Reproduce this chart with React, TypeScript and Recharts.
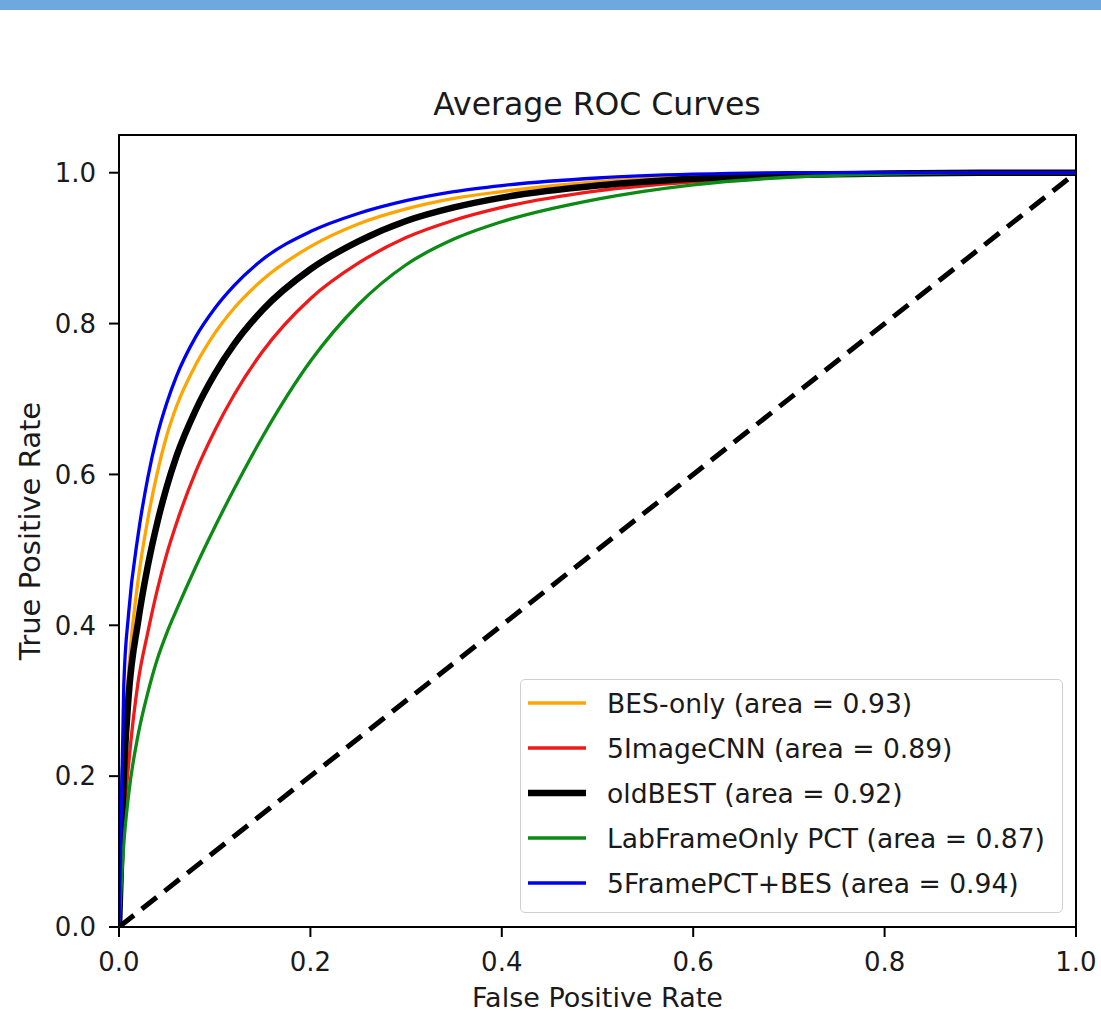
import React from "react";
import { LineChart, Line, XAxis, YAxis, Legend, ReferenceArea, Label } from "recharts";

// false positive rate sample points shared by all curves
const fpr = [0, 0.005, 0.01, 0.02, 0.03, 0.04, 0.05, 0.06, 0.08, 0.1, 0.12, 0.15, 0.2, 0.25, 0.3, 0.35, 0.4, 0.5, 0.6, 0.7, 0.8, 0.9, 1.0];

// true positive rate per model
const besOnly = [0, 0.23, 0.34, 0.46, 0.54, 0.602, 0.652, 0.69, 0.745, 0.787, 0.82, 0.858, 0.902, 0.932, 0.952, 0.966, 0.975, 0.988, 0.995, 0.998, 1.0, 1.0, 1.0];
const imageCnn = [0, 0.14, 0.215, 0.325, 0.39, 0.447, 0.495, 0.535, 0.603, 0.658, 0.705, 0.763, 0.833, 0.88, 0.914, 0.937, 0.954, 0.976, 0.988, 0.995, 0.999, 1.0, 1.0];
const oldBest = [0, 0.2, 0.305, 0.405, 0.478, 0.536, 0.584, 0.624, 0.685, 0.733, 0.772, 0.818, 0.872, 0.909, 0.936, 0.954, 0.967, 0.983, 0.992, 0.997, 0.999, 1.0, 1.0];
const labFrame = [0, 0.11, 0.175, 0.255, 0.31, 0.355, 0.39, 0.42, 0.477, 0.53, 0.58, 0.65, 0.75, 0.825, 0.878, 0.912, 0.935, 0.965, 0.984, 0.994, 0.998, 1.0, 1.0];
const framePct = [0, 0.32, 0.415, 0.52, 0.595, 0.652, 0.695, 0.73, 0.782, 0.82, 0.85, 0.885, 0.922, 0.946, 0.963, 0.975, 0.983, 0.993, 0.998, 1.0, 1.0, 1.0, 1.0];

const diagonal = [
  { fpr: 0, chance: 0 },
  { fpr: 1, chance: 1 },
];

const ticks = [0, 0.2, 0.4, 0.6, 0.8, 1.0];

const series = [
  { key: "bes", name: "BES-only (area = 0.93)", color: "#ffa500", width: 3.3, values: besOnly },
  { key: "cnn", name: "5ImageCNN (area = 0.89)", color: "#f01818", width: 3.3, values: imageCnn },
  { key: "old", name: "oldBEST (area = 0.92)", color: "#000000", width: 6.5, values: oldBest },
  { key: "lab", name: "LabFrameOnly PCT (area = 0.87)", color: "#0b8a14", width: 3.3, values: labFrame },
  { key: "pct", name: "5FramePCT+BES (area = 0.94)", color: "#0000f0", width: 3.3, values: framePct },
];

const rows = fpr.map((x, i) => {
  const row: Record<string, number> = { fpr: x };
  series.forEach((s) => (row[s.key] = s.values[i]));
  return row;
});

const FONT = "DejaVu Sans";
const fmt = (v: number) => v.toFixed(1);

function LegendBox() {
  return (
    <div
      style={{
        width: 543,
        height: 234,
        boxSizing: "border-box",
        border: "1.5px solid #d0d0d0",
        borderRadius: 5,
        background: "rgba(255,255,255,0.8)",
      }}
    >
      <svg width={541} height={232} style={{ display: "block" }}>
        {series.map((s, i) => {
          const cy = 23 + i * 45;
          return (
            <g key={s.key}>
              <line x1={7} x2={65} y1={cy} y2={cy} stroke={s.color} strokeWidth={s.width} />
              <text x={86} y={cy + 10} fontFamily={FONT} fontSize={26.6} fill="#1a1a1a">
                {s.name}
              </text>
            </g>
          );
        })}
      </svg>
    </div>
  );
}

function YLabel(props: any) {
  const vb = props.viewBox;
  const cy = vb.y + vb.height / 2;
  return (
    <text
      transform={`translate(${vb.x + 40},${cy}) rotate(-90)`}
      textAnchor="middle"
      fontFamily={FONT}
      fontSize={29}
      fill="#1a1a1a"
    >
      True Positive Rate
    </text>
  );
}

export default function App() {
  return (
    <div
      style={{
        position: "absolute",
        left: 0,
        top: 0,
        width: 1101,
        height: 1011,
        background: "#fff",
        overflow: "hidden",
        fontFamily: FONT,
      }}
    >
      <div style={{ position: "absolute", left: 0, top: 0, width: 1101, height: 10, background: "#6fa8dc" }} />
      <svg style={{ position: "absolute", left: 0, top: 0 }} width={1101} height={130}>
        <text x={597} y={115} textAnchor="middle" fontFamily={FONT} fontSize={31.5} fill="#1a1a1a">
          Average ROC Curves
        </text>
      </svg>
      <div style={{ position: "absolute", left: 0, top: 0 }}>
        <LineChart width={1101} height={1011} data={rows} margin={{ top: 135, right: 25, bottom: 0, left: 0 }}>
          <XAxis
            type="number"
            dataKey="fpr"
            domain={[0, 1]}
            ticks={ticks}
            tickFormatter={fmt}
            height={84}
            tickSize={10}
            tickMargin={16}
            stroke="#000"
            strokeWidth={2}
            tick={{ fill: "#1a1a1a", fontSize: 26, fontFamily: FONT }}
            allowDataOverflow
          >
            <Label
              value="False Positive Rate"
              position="insideBottom"
              offset={4}
              style={{ fontFamily: FONT, fontSize: 27, fill: "#1a1a1a" }}
            />
          </XAxis>
          <YAxis
            type="number"
            domain={[0, 1.05]}
            ticks={ticks}
            tickFormatter={fmt}
            width={119}
            tickSize={10}
            tickMargin={13}
            stroke="#000"
            strokeWidth={2}
            tick={{ fill: "#1a1a1a", fontSize: 26, fontFamily: FONT }}
            allowDataOverflow
          >
            <Label content={<YLabel />} />
          </YAxis>
          <ReferenceArea x1={0} x2={1} y1={0} y2={1.05} fill="none" stroke="#000" strokeWidth={2} />
          {series.map((s) => (
            <Line
              key={s.key}
              dataKey={s.key}
              name={s.name}
              type="monotone"
              stroke={s.color}
              strokeWidth={s.width}
              dot={false}
              activeDot={false}
              isAnimationActive={false}
            />
          ))}
          <Line
            data={diagonal}
            dataKey="chance"
            type="linear"
            stroke="#000"
            strokeWidth={5}
            strokeDasharray="19 10"
            dot={false}
            activeDot={false}
            legendType="none"
            isAnimationActive={false}
          />
          <Legend
            layout="vertical"
            align="center"
            verticalAlign="middle"
            content={<LegendBox />}
            wrapperStyle={{ position: "absolute", left: 520, top: 679, width: 543, height: 234, bottom: "auto", right: "auto" }}
          />
        </LineChart>
      </div>
    </div>
  );
}
